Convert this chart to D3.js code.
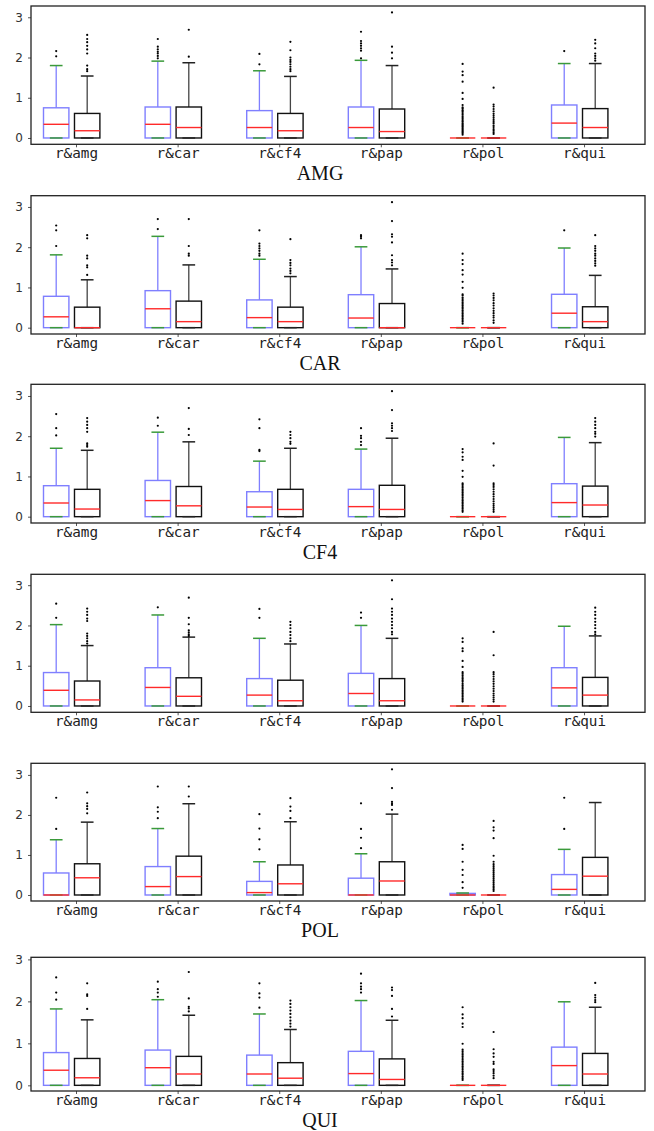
<!DOCTYPE html>
<html>
<head>
<meta charset="utf-8">
<script src="https://cdn.jsdelivr.net/npm/d3@7"></script>
<style>
	body { margin: 0; background: #fff; }
</style>
</head>
<body>
<div id="chart"></div>
<script>
const categories = ['r&amg', 'r&car', 'r&cf4', 'r&pap', 'r&pol', 'r&qui'];
const captions = ['AMG', 'CAR', 'CF4', '', 'POL', 'QUI'];
const yTicks = [0, 1, 2, 3];
const yLims = [[-0.157, 3.28], [-0.157, 3.28], [-0.157, 3.29], [-0.157, 3.27], [-0.15, 3.29], [-0.135, 3.05]];

// each box: [whisker low, q1, median, q3, whisker high]
// A = blue boxes, B = black boxes
const amgA = [[0, 0, 0.34, 0.75, 1.80], [0, 0, 0.34, 0.77, 1.91], [0, 0, 0.26, 0.68, 1.67], [0, 0, 0.26, 0.77, 1.93], [0, 0, 0, 0, 0], [0, 0, 0.37, 0.82, 1.85]];
const amgAOut = [
	[2.03, 2.16],
	[1.98, 2.04, 2.10, 2.14, 2.20, 2.27, 2.46],
	[1.83, 2.09],
	[1.98, 2.17, 2.23, 2.29, 2.35, 2.41, 2.64],
	[0.08, 0.12, 0.15, 0.18, 0.21, 0.24, 0.27, 0.30, 0.33, 0.36, 0.40, 0.43, 0.47, 0.50, 0.54, 0.58, 0.62, 0.66, 0.69, 0.73, 0.76, 0.82, 0.97, 1.12, 1.40, 1.56, 1.65, 1.84],
	[2.16],
];
const amgB = [[0, 0, 0.18, 0.61, 1.54], [0, 0, 0.26, 0.77, 1.87], [0, 0, 0.18, 0.61, 1.53], [0, 0, 0.16, 0.72, 1.80], [0, 0, 0, 0, 0], [0, 0, 0.26, 0.73, 1.85]];
const amgBOut = [
	[1.66, 1.71, 1.80, 2.10, 2.20, 2.29, 2.38, 2.46, 2.56],
	[2.02, 2.69],
	[1.66, 1.71, 1.77, 1.83, 1.89, 1.94, 2.00, 2.18, 2.39],
	[1.98, 2.12, 2.27, 3.12],
	[0.10, 0.14, 0.18, 0.22, 0.27, 0.31, 0.36, 0.40, 0.45, 0.50, 0.55, 0.60, 0.66, 0.72, 0.78, 0.83, 1.25],
	[1.92, 1.98, 2.04, 2.10, 2.23, 2.35, 2.44],
];

const carA = [[0, 0, 0.27, 0.78, 1.81], [0, 0, 0.47, 0.92, 2.27], [0, 0, 0.25, 0.69, 1.70], [0, 0, 0.24, 0.82, 2.01], [0, 0, 0, 0, 0], [0, 0, 0.36, 0.83, 1.98]];
const carAOut = [
	[2.03, 2.42, 2.54],
	[2.45, 2.70],
	[1.79, 1.84, 1.91, 1.97, 2.03, 2.09, 2.42],
	[2.22, 2.26, 2.30],
	[0.10, 0.15, 0.19, 0.23, 0.27, 0.31, 0.35, 0.39, 0.43, 0.47, 0.51, 0.55, 0.59, 0.63, 0.67, 0.71, 0.75, 0.80, 0.83, 0.99, 1.14, 1.32, 1.43, 1.58, 1.68, 1.84],
	[2.42],
];
const carB = [[0, 0, 0, 0.51, 1.19], [0, 0, 0.15, 0.66, 1.56], [0, 0, 0.15, 0.51, 1.27], [0, 0, 0, 0.60, 1.46], [0, 0, 0, 0, 0], [0, 0, 0.15, 0.52, 1.30]];
const carBOut = [
	[1.31, 1.50, 1.55, 1.72, 1.79, 2.22, 2.30],
	[1.79, 1.84, 2.03, 2.70],
	[1.35, 1.41, 1.47, 1.55, 1.61, 1.68, 2.20],
	[1.55, 1.62, 1.68, 1.80, 2.12, 2.26, 2.32, 2.65, 3.12],
	[0.12, 0.18, 0.25, 0.30, 0.36, 0.42, 0.48, 0.55, 0.61, 0.68, 0.74, 0.80, 0.85],
	[1.54, 1.60, 1.66, 1.72, 1.79, 1.84, 1.91, 1.97, 2.03, 2.30],
];

const cf4A = [[0, 0, 0.34, 0.77, 1.70], [0, 0, 0.40, 0.90, 2.10], [0, 0, 0.24, 0.62, 1.38], [0, 0, 0.25, 0.68, 1.68], [0, 0, 0, 0, 0], [0, 0, 0.35, 0.82, 1.97]];
const cf4AOut = [
	[2.02, 2.20, 2.55],
	[2.26, 2.46],
	[1.63, 1.66, 2.20, 2.42],
	[1.78, 1.86, 1.95, 2.01, 2.20],
	[0.12, 0.16, 0.20, 0.24, 0.28, 0.32, 0.36, 0.40, 0.44, 0.48, 0.52, 0.56, 0.60, 0.64, 0.68, 0.72, 0.76, 0.80, 0.83, 0.99, 1.14, 1.41, 1.49, 1.60, 1.68],
	[],
];
const cf4B = [[0, 0, 0.19, 0.68, 1.65], [0, 0, 0.27, 0.75, 1.86], [0, 0, 0.18, 0.68, 1.70], [0, 0, 0.18, 0.78, 1.95], [0, 0, 0, 0, 0], [0, 0, 0.29, 0.76, 1.84]];
const cf4BOut = [
	[1.74, 1.78, 1.82, 2.11, 2.20, 2.28, 2.36, 2.45],
	[2.03, 2.18, 2.70],
	[1.81, 1.86, 1.95, 2.03, 2.11],
	[2.13, 2.20, 2.26, 2.32, 2.65, 3.12],
	[0.12, 0.17, 0.22, 0.27, 0.32, 0.38, 0.44, 0.50, 0.56, 0.62, 0.68, 0.74, 0.79, 0.83, 1.27, 1.82],
	[1.99, 2.06, 2.11, 2.20, 2.28, 2.36, 2.45],
];

const papA = [[0, 0, 0.39, 0.83, 2.02], [0, 0, 0.46, 0.95, 2.26], [0, 0, 0.27, 0.68, 1.68], [0, 0, 0.31, 0.81, 2.00], [0, 0, 0, 0, 0], [0, 0, 0.45, 0.95, 1.98]];
const papAOut = [
	[2.19, 2.54],
	[2.45],
	[2.19, 2.41],
	[2.19, 2.32],
	[0.11, 0.15, 0.19, 0.23, 0.27, 0.31, 0.35, 0.39, 0.43, 0.47, 0.51, 0.55, 0.60, 0.64, 0.68, 0.72, 0.76, 0.80, 0.84, 0.97, 1.12, 1.36, 1.43, 1.59, 1.68],
	[],
];
const papB = [[0, 0, 0.15, 0.62, 1.50], [0, 0, 0.24, 0.70, 1.71], [0, 0, 0.13, 0.64, 1.54], [0, 0, 0.13, 0.68, 1.68], [0, 0, 0, 0, 0], [0, 0, 0.27, 0.71, 1.74]];
const papBOut = [
	[1.55, 1.61, 1.68, 1.74, 1.80, 2.11, 2.17, 2.26, 2.34, 2.42],
	[1.74, 1.78, 1.83, 1.88, 2.03, 2.19, 2.69],
	[1.61, 1.68, 1.76, 1.84, 1.93, 2.01, 2.09],
	[1.78, 1.84, 1.93, 2.01, 2.09, 2.17, 2.26, 2.34, 2.42, 2.65, 3.12],
	[0.11, 0.16, 0.21, 0.26, 0.31, 0.37, 0.43, 0.49, 0.55, 0.61, 0.67, 0.73, 0.79, 0.84, 1.26, 1.84],
	[1.78, 1.84, 1.93, 2.01, 2.09, 2.17, 2.26, 2.34, 2.44],
];

const polA = [[0, 0, 0, 0.55, 1.38], [0, 0, 0.21, 0.71, 1.66], [0, 0, 0.06, 0.34, 0.83], [0, 0, 0, 0.42, 1.03], [0, 0, 0, 0.04, 0.05], [0, 0, 0.14, 0.51, 1.14]];
const polAOut = [
	[1.65, 2.43],
	[1.92, 2.08, 2.19, 2.71],
	[1.14, 1.39, 1.66, 2.02],
	[1.17, 1.43, 1.65, 2.29],
	[0.18, 0.32, 0.50, 0.63, 0.83, 1.15, 1.25],
	[1.65, 2.43],
];
const polB = [[0, 0, 0.43, 0.78, 1.82], [0, 0, 0.46, 0.97, 2.28], [0, 0, 0.28, 0.75, 1.83], [0, 0, 0.35, 0.83, 2.02], [0, 0, 0, 0, 0], [0, 0, 0.47, 0.94, 2.31]];
const polBOut = [
	[2.04, 2.15, 2.22, 2.29, 2.56],
	[2.46, 2.71],
	[1.92, 2.10, 2.21, 2.42],
	[2.13, 2.25, 2.29, 2.33, 2.67, 3.14],
	[0.10, 0.14, 0.18, 0.22, 0.27, 0.32, 0.37, 0.42, 0.47, 0.52, 0.57, 0.62, 0.67, 0.72, 0.77, 0.83, 0.98, 1.42, 1.61, 1.69, 1.85],
	[],
];

const quiA = [[0, 0, 0.36, 0.78, 1.82], [0, 0, 0.42, 0.84, 2.04], [0, 0, 0.27, 0.72, 1.70], [0, 0, 0.28, 0.81, 2.02], [0, 0, 0, 0, 0], [0, 0, 0.47, 0.91, 1.99]];
const quiAOut = [
	[2.04, 2.21, 2.57],
	[2.11, 2.21, 2.29, 2.47],
	[1.85, 2.09, 2.19, 2.43],
	[2.21, 2.29, 2.35, 2.43, 2.66],
	[0.13, 0.17, 0.21, 0.25, 0.29, 0.33, 0.37, 0.41, 0.45, 0.49, 0.53, 0.57, 0.61, 0.65, 0.69, 0.73, 0.77, 0.81, 0.85, 0.99, 1.39, 1.47, 1.60, 1.69, 1.86],
	[],
];
const quiB = [[0, 0, 0.18, 0.64, 1.56], [0, 0, 0.27, 0.69, 1.67], [0, 0, 0.17, 0.54, 1.33], [0, 0, 0.14, 0.63, 1.55], [0, 0, 0, 0, 0], [0, 0, 0.27, 0.76, 1.86]];
const quiBOut = [
	[1.82, 2.13, 2.17, 2.43],
	[1.76, 1.83, 1.87, 2.07, 2.70],
	[1.40, 1.47, 1.54, 1.62, 1.70, 1.78, 1.86, 1.94, 2.02],
	[1.64, 1.82, 2.13, 2.27, 2.33],
	[0.17, 0.23, 0.29, 0.34, 0.38, 0.51, 0.56, 0.68, 0.76, 0.86, 1.27],
	[1.98, 2.03, 2.09, 2.15, 2.44],
];

const panels = [
	{ a: amgA, aOut: amgAOut, b: amgB, bOut: amgBOut },
	{ a: carA, aOut: carAOut, b: carB, bOut: carBOut },
	{ a: cf4A, aOut: cf4AOut, b: cf4B, bOut: cf4BOut },
	{ a: papA, aOut: papAOut, b: papB, bOut: papBOut },
	{ a: polA, aOut: polAOut, b: polB, bOut: polBOut },
	{ a: quiA, aOut: quiAOut, b: quiB, bOut: quiBOut },
];

// layout of the six frames (pixels)
const left = 31;
const right = 645;
const tops = [6, 195.7, 384.3, 574.3, 763.3, 957.3];
const bottoms = [144.3, 334, 523, 712.3, 901, 1091];

const styleA = { box: '#7f7fff', whisker: '#7f7fff', cap: '#3a9a3a', median: '#ff2a2a', offset: -0.195 };
const styleB = { box: '#111', whisker: '#444', cap: '#222', median: '#ff2a2a', offset: 0.11 };

const svg = d3.select('#chart').append('svg').attr('width', 654).attr('height', 1131);

const x = d3.scaleLinear().domain([0.557, 6.6]).range([left, right]);
const boxW = x(1.25) - x(1);

const drawSeries = (g, y, stats, outliers, st) => {
	stats.forEach((s, k) => {
		const [lo, q1, med, q3, hi] = s;
		const cx = x(k + 1 + st.offset);
		const sg = g.append('g');

		sg.append('line').attr('x1', cx).attr('x2', cx).attr('y1', y(q3)).attr('y2', y(hi))
			.attr('stroke', st.whisker).attr('stroke-width', 1.3);
		sg.append('line').attr('x1', cx).attr('x2', cx).attr('y1', y(q1)).attr('y2', y(lo))
			.attr('stroke', st.whisker).attr('stroke-width', 1.3);

		sg.append('rect')
			.attr('x', cx - boxW / 2)
			.attr('y', y(q3))
			.attr('width', boxW)
			.attr('height', Math.max(0, y(q1) - y(q3)))
			.attr('fill', 'none')
			.attr('stroke', st.box)
			.attr('stroke-width', 1.4);

		[hi, lo].forEach((v) => {
			sg.append('line').attr('x1', cx - boxW / 4).attr('x2', cx + boxW / 4).attr('y1', y(v)).attr('y2', y(v))
				.attr('stroke', st.cap).attr('stroke-width', 1.5);
		});

		sg.append('line').attr('x1', cx - boxW / 2).attr('x2', cx + boxW / 2).attr('y1', y(med)).attr('y2', y(med))
			.attr('stroke', st.median).attr('stroke-width', 1.4);

		sg.selectAll('circle')
			.data(outliers[k])
			.enter()
			.append('circle')
			.attr('cx', cx)
			.attr('cy', (d) => y(d))
			.attr('r', 1.1)
			.attr('fill', '#000');
	});
};

panels.forEach((p, i) => {
	const top = tops[i];
	const bottom = bottoms[i];
	const y = d3.scaleLinear().domain(yLims[i]).range([bottom, top]);
	const g = svg.append('g');

	const yAxis = g.append('g').attr('transform', `translate(${left},0)`)
		.call(d3.axisLeft(y).tickValues(yTicks).tickFormat(d3.format('d')).tickSize(3).tickPadding(5));
	yAxis.select('.domain').remove();
	yAxis.selectAll('line').attr('stroke', '#555');
	yAxis.selectAll('text').attr('font-family', 'DejaVu Sans').attr('font-size', 12).attr('fill', '#333');

	const xAxis = g.append('g').attr('transform', `translate(0,${bottom})`)
		.call(d3.axisBottom(x).tickValues(d3.range(1, 7)).tickFormat((d) => categories[d - 1]).tickSize(3).tickPadding(1));
	xAxis.select('.domain').remove();
	xAxis.selectAll('line').attr('stroke', '#555');
	xAxis.selectAll('text').attr('font-family', 'DejaVu Sans Mono').attr('font-size', 14.3).attr('fill', '#222');

	drawSeries(g, y, p.a, p.aOut, styleA);
	drawSeries(g, y, p.b, p.bOut, styleB);

	g.append('rect')
		.attr('x', left)
		.attr('y', top)
		.attr('width', right - left)
		.attr('height', bottom - top)
		.attr('fill', 'none')
		.attr('stroke', '#222')
		.attr('stroke-width', 1.3);

	if (captions[i]) {
		g.append('text')
			.attr('x', 320)
			.attr('y', bottom + 35.5)
			.attr('text-anchor', 'middle')
			.attr('font-family', 'Liberation Serif')
			.attr('font-size', 20)
			.attr('fill', '#111')
			.text(captions[i]);
	}
});
</script>
</body>
</html>
